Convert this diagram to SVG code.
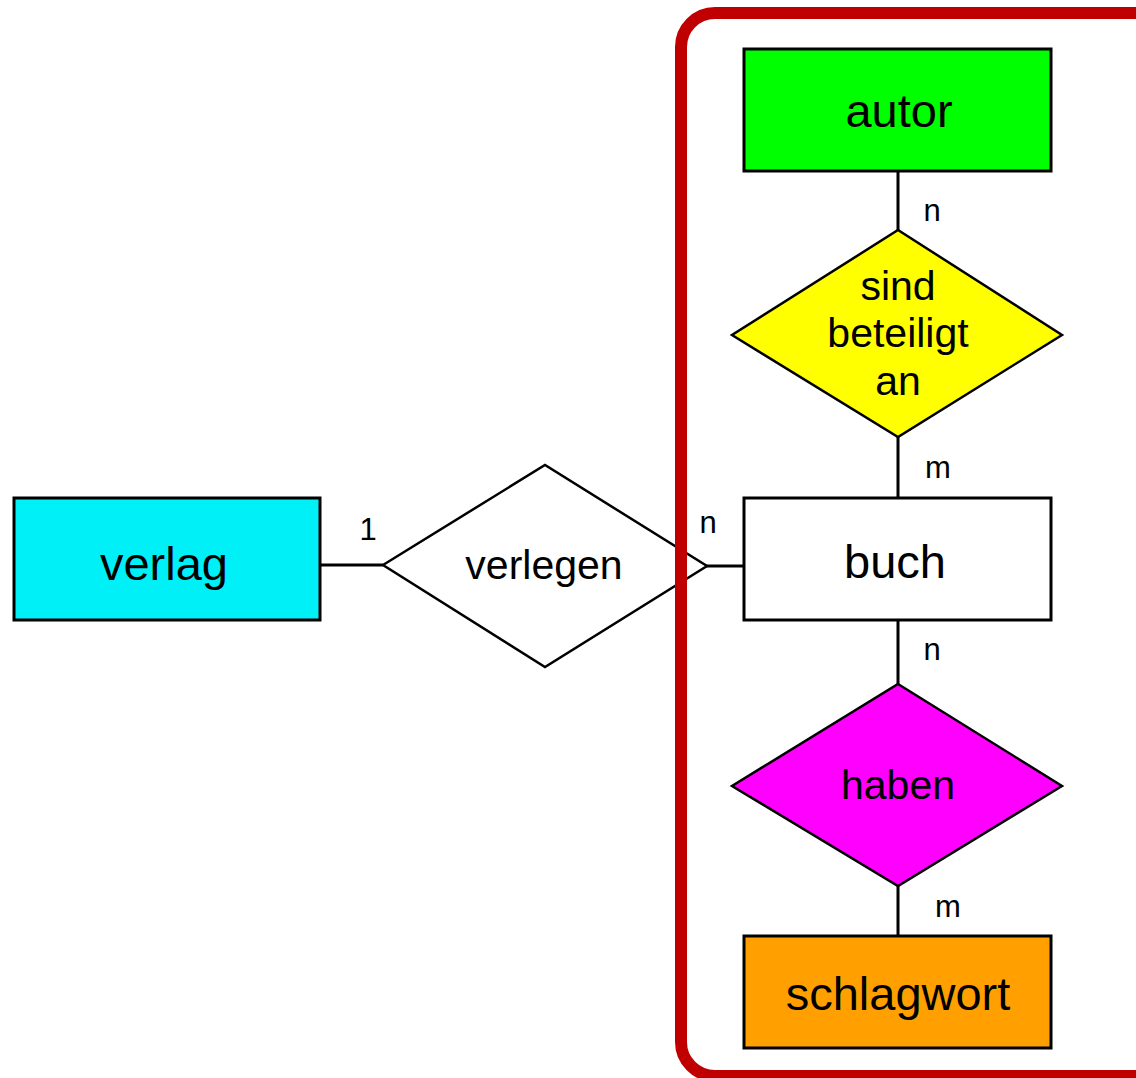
<svg xmlns="http://www.w3.org/2000/svg" width="1136" height="1078" viewBox="0 0 1136 1078">
<style>
.box{stroke:#000;stroke-width:3}
.dia{stroke:#000;stroke-width:2.5}
.lbl{font-family:"Liberation Sans",Arial,sans-serif;fill:#000;text-anchor:middle;dominant-baseline:central}
.big{font-size:47px}
.mid{font-size:41px}
.card{font-size:31px}
.edge{stroke:#000;stroke-width:3;fill:none}
</style>
<rect width="1136" height="1078" fill="#fff"/>
<g id="connectors">
<line class="edge" x1="320" y1="565" x2="383" y2="565"/>
<line class="edge" x1="705" y1="566" x2="743" y2="566"/>
<line class="edge" x1="898" y1="172" x2="898" y2="230"/>
<line class="edge" x1="898" y1="437" x2="898" y2="498"/>
<line class="edge" x1="898" y1="620" x2="898" y2="684"/>
<line class="edge" x1="898" y1="886" x2="898" y2="936"/>
<text class="lbl card" x="368" y="529">1</text>
<text class="lbl card" x="708" y="522">n</text>
<text class="lbl card" x="932" y="210">n</text>
<text class="lbl card" x="938" y="467">m</text>
<text class="lbl card" x="932" y="649">n</text>
<text class="lbl card" x="948" y="906">m</text>
</g>
<g id="verlag">
<rect class="box" x="14" y="498" width="306" height="122" fill="#00f0f8"/>
<text class="lbl big" x="164" y="563">verlag</text>
</g>
<g id="verlegen">
<polygon class="dia" points="383,565 545,465 707,566 545,667" fill="#fff"/>
<text class="lbl mid" x="544" y="565">verlegen</text>
</g>
<g id="autor">
<rect class="box" x="744" y="49" width="307" height="122" fill="#00ff00"/>
<text class="lbl big" x="899" y="110">autor</text>
</g>
<g id="sind_beteiligt_an">
<polygon class="dia" points="898,230 1062,335 898,437 732,335" fill="#ffff00"/>
<text class="lbl mid" x="898" y="286">sind</text>
<text class="lbl mid" x="898" y="333">beteiligt</text>
<text class="lbl mid" x="898" y="381">an</text>
</g>
<g id="buch">
<rect class="box" x="744" y="498" width="307" height="122" fill="#fff"/>
<text class="lbl big" x="895" y="561">buch</text>
</g>
<g id="haben">
<polygon class="dia" points="898,684 1062,786 898,886 732,786" fill="#ff00ff"/>
<text class="lbl mid" x="898" y="785">haben</text>
</g>
<g id="schlagwort">
<rect class="box" x="744" y="936" width="307" height="112" fill="#ffa000"/>
<text class="lbl big" x="898" y="993">schlagwort</text>
</g>
<rect x="681" y="13" width="490" height="1063" rx="34" fill="none" stroke="#c00000" stroke-width="12"/>
</svg>
